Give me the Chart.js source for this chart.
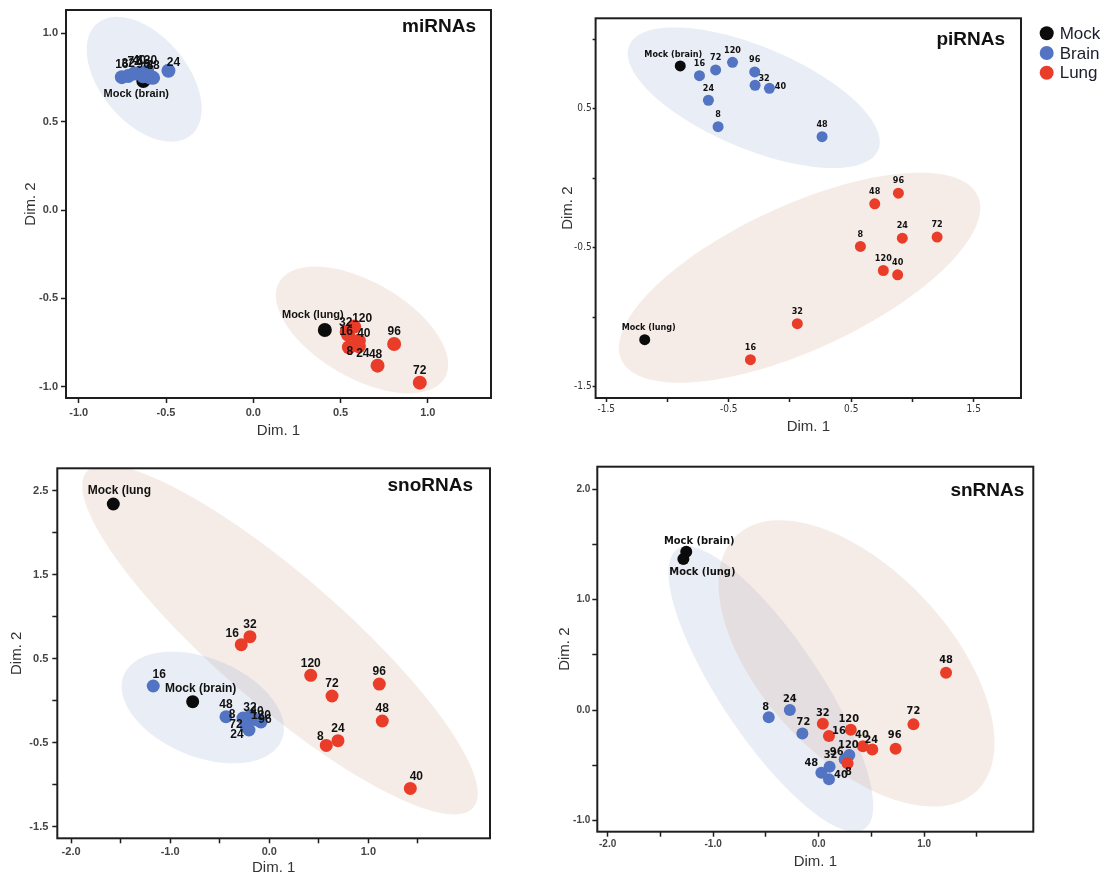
<!DOCTYPE html>
<html>
<head>
<meta charset="utf-8">
<script src="https://cdn.jsdelivr.net/npm/chart.js@4.4.1/dist/chart.umd.min.js"></script>
<style>
  html, body { margin: 0; padding: 0; background: #fff; }
  #wrap { position: relative; width: 1102px; height: 877px; }
  canvas { position: absolute; }
</style>
</head>
<body>
<div id="wrap">
  <canvas id="mi" width="540" height="440" style="left:0;top:0"></canvas>
  <canvas id="pi" width="562" height="440" style="left:540px;top:0"></canvas>
  <canvas id="sno" width="540" height="437" style="left:0;top:440px"></canvas>
  <canvas id="sn" width="562" height="437" style="left:540px;top:440px"></canvas>
</div>
<script>
// ── data ────────────────────────────────────────────────
const hours = ['8', '16', '24', '32', '40', '48', '72', '96', '120'];
const groups = ['Mock', 'Brain', 'Lung'];

// miRNAs
const miMockNames = ['Mock (brain)', 'Mock (lung)'];
const miMockX = [-0.630, 0.410];
const miMockY = [0.730, -0.679];
const miBrainX = [-0.591, -0.753, -0.486, -0.717, -0.654, -0.574, -0.683, -0.631, -0.608];
const miBrainY = [0.750, 0.752, 0.788, 0.758, 0.775, 0.748, 0.772, 0.757, 0.785];
const miLungX = [0.548, 0.544, 0.605, 0.535, 0.605, 0.712, 0.954, 0.807, 0.578];
const miLungY = [-0.777, -0.707, -0.772, -0.689, -0.740, -0.881, -0.977, -0.758, -0.660];
// ellipse: centre, first and second semi-axis vectors (data units)
const miBrainEllipse = [-0.625, 0.740, 0.269, -0.316, -0.190, -0.158];
const miLungEllipse = [0.623, -0.679, 0.474, -0.271, -0.137, -0.235];
const miXTicks = [-1, -0.5, 0, 0.5, 1];
const miXLabels = [-1, -0.5, 0, 0.5, 1];
const miYTicks = [-1, -0.5, 0, 0.5, 1];
const miYLabels = [-1, -0.5, 0, 0.5, 1];

// piRNAs
const piMockNames = ['Mock (brain)', 'Mock (lung)'];
const piMockX = [-0.896, -1.186];
const piMockY = [0.808, -1.163];
const piBrainX = [-0.587, -0.739, -0.666, -0.285, -0.168, 0.262, -0.607, -0.288, -0.469];
const piBrainY = [0.371, 0.738, 0.561, 0.669, 0.647, 0.299, 0.779, 0.765, 0.834];
const piLungX = [0.575, -0.323, 0.917, 0.060, 0.879, 0.692, 1.201, 0.885, 0.762];
const piLungY = [-0.492, -1.307, -0.432, -1.048, -0.696, -0.185, -0.424, -0.108, -0.665];
const piBrainEllipse = [-0.296, 0.579, 1.016, -0.377, -0.162, -0.338];
const piLungEllipse = [0.078, -0.717, 1.454, 0.591, 0.247, -0.472];
const piXTicks = [-1.5, -1, -0.5, 0, 0.5, 1, 1.5];
const piXLabels = [-1.5, -0.5, 0.5, 1.5];
const piYTicks = [-1.5, -1, -0.5, 0, 0.5, 1];
const piYLabels = [-1.5, -0.5, 0.5];

// snoRNAs
const snoMockNames = ['Mock (brain)', 'Mock (lung'];
const snoMockX = [-0.773, -1.574];
const snoMockY = [-0.014, 2.339];
const snoBrainX = [-0.265, -1.171, -0.205, -0.195, -0.154, -0.437, -0.235, -0.084, -0.124];
const snoBrainY = [-0.208, 0.173, -0.351, -0.185, -0.220, -0.193, -0.304, -0.256, -0.232];
const snoLungX = [0.575, -0.283, 0.693, -0.195, 1.423, 1.140, 0.633, 1.110, 0.418];
const snoLungY = [-0.534, 0.665, -0.478, 0.760, -1.046, -0.244, 0.054, 0.196, 0.300];
const snoBrainEllipse = [-0.671, -0.083, 0.797, -0.385, -0.188, -0.542];
const snoLungEllipse = [0.108, 0.724, 1.950, -1.999, -0.424, -0.575];
const snoXTicks = [-2, -1.5, -1, -0.5, 0, 0.5, 1, 1.5];
const snoXLabels = [-2, -1, 0, 1];
const snoYTicks = [-1.5, -1, -0.5, 0, 0.5, 1, 1.5, 2, 2.5];
const snoYLabels = [-1.5, -0.5, 0.5, 1.5, 2.5];

// snRNAs
const snMockNames = ['Mock (brain)', 'Mock (lung)'];
const snMockX = [-1.255, -1.282];
const snMockY = [1.435, 1.369];
const snBrainNames = ['8', '24', '32', '40', '48', '72', '96', '120'];
const snBrainX = [-0.473, -0.273, 0.104, 0.098, 0.026, -0.154, 0.247, 0.291];
const snBrainY = [-0.066, 0.000, -0.514, -0.628, -0.568, -0.212, -0.447, -0.408];
const snLungX = [0.274, 0.098, 0.509, 0.040, 0.420, 1.208, 0.899, 0.730, 0.305];
const snLungY = [-0.483, -0.236, -0.357, -0.124, -0.329, 0.338, -0.130, -0.351, -0.178];
const snBrainEllipse = [-0.453, 0.189, 0.887, -1.268, -0.394, -0.252];
const snLungEllipse = [0.359, 0.423, 1.136, -1.161, -0.648, -0.580];
const snXTicks = [-2, -1.5, -1, -0.5, 0, 0.5, 1, 1.5];
const snXLabels = [-2, -1, 0, 1];
const snYTicks = [-1, -0.5, 0, 0.5, 1, 1.5, 2];
const snYLabels = [-1, 0, 1, 2];

// ── styling ─────────────────────────────────────────────
const colors = { Mock: '#0b0b0b', Brain: '#5274c2', Lung: '#ea3d29' };
const ellipseFill = { Brain: 'rgba(165,178,212,0.24)', Lung: 'rgba(214,176,158,0.24)' };
const sans = "'Liberation Sans', Arial, Helvetica, sans-serif";
const narrow = "'Liberation Sans Narrow', 'DejaVu Sans Condensed', 'Liberation Sans', sans-serif";

const pts = (xs, ys) => xs.map((x, i) => ({ x, y: ys[i] }));

function panel(p) {
  const canvas = document.getElementById(p.id);
  const W = canvas.width, H = canvas.height;
  const a = p.area;

  const plugin = {
    id: 'panelDecor',
    beforeDatasetsDraw(chart) {
      const { ctx, chartArea: ca, scales: { x, y } } = chart;
      ctx.save();
      ctx.beginPath();
      ctx.rect(ca.left, ca.top, ca.right - ca.left, ca.bottom - ca.top);
      ctx.clip();
      p.ellipses.forEach(([grp, e]) => {
        ctx.beginPath();
        for (let i = 0; i <= 160; i++) {
          const t = i / 160 * Math.PI * 2;
          const dx = e[0] + e[2] * Math.cos(t) + e[4] * Math.sin(t);
          const dy = e[1] + e[3] * Math.cos(t) + e[5] * Math.sin(t);
          const px = x.getPixelForValue(dx), py = y.getPixelForValue(dy);
          if (i) ctx.lineTo(px, py); else ctx.moveTo(px, py);
        }
        ctx.closePath();
        ctx.fillStyle = ellipseFill[grp];
        ctx.fill();
      });
      ctx.restore();
    },
    afterDatasetsDraw(chart) {
      const { ctx, chartArea: ca } = chart;
      ctx.save();
      // point labels
      ctx.fillStyle = '#111';
      ctx.textAlign = 'center';
      ctx.textBaseline = 'middle';
      chart.data.datasets.forEach((ds, i) => {
        const meta = chart.getDatasetMeta(i);
        ctx.font = ds.label === 'Mock' ? p.mockFont : p.labelFont;
        meta.data.forEach((el, j) => {
          const name = ds.names[j];
          const n = p.nudge[ds.label + ':' + name] || p.defaultNudge;
          ctx.fillText(name, el.x + n[0], el.y + n[1]);
        });
      });
      // frame
      ctx.strokeStyle = '#1e1e1e';
      ctx.lineWidth = 2;
      ctx.strokeRect(ca.left, ca.top, ca.right - ca.left, ca.bottom - ca.top);
      // panel title
      ctx.font = 'bold 19px ' + sans;
      ctx.fillStyle = '#111';
      ctx.textAlign = 'right';
      ctx.fillText(p.title, ca.right - p.titleInset[0], ca.top + p.titleInset[1]);
      // legend
      if (p.legend) {
        ctx.textAlign = 'left';
        ctx.font = '17px ' + sans;
        groups.forEach((g, k) => {
          const cy = p.legend.y + k * p.legend.gap;
          ctx.beginPath();
          ctx.arc(p.legend.x, cy, 7, 0, Math.PI * 2);
          ctx.fillStyle = colors[g];
          ctx.fill();
          ctx.fillStyle = '#1a1d2b';
          ctx.fillText(g, p.legend.x + 13, cy + 1);
        });
      }
      ctx.restore();
    },
  };

  const axis = (ticksArr, labelled, fit, tickOpt, title) => ({
    type: 'linear',
    afterBuildTicks: s => { s.ticks = ticksArr.map(v => ({ value: v })); },
    afterFit: fit,
    ticks: {
      autoSkip: false, maxRotation: 0,
      padding: tickOpt.padding,
      color: p.tickColor,
      font: p.tickFont,
      callback: v => labelled.includes(v) ? v.toFixed(1) : '',
    },
    grid: { display: true, drawOnChartArea: false, drawTicks: true, tickLength: tickOpt.len, tickColor: '#1e1e1e', tickWidth: 1.5 },
    border: { display: false },
    title: { display: true, text: title.text, color: '#333', font: { family: sans, size: 15 }, padding: title.padding },
  });

  const mk = (g, xs, ys, names, order) => ({
    label: g, data: pts(xs, ys), names, order,
    backgroundColor: colors[g], borderWidth: 0,
    pointRadius: p.r, pointHoverRadius: p.r,
  });

  new Chart(canvas, {
    type: 'scatter',
    data: {
      datasets: [
        mk('Mock', p.mockX, p.mockY, p.mockNames, 3),
        mk('Brain', p.brainX, p.brainY, p.brainNames, 2),
        mk('Lung', p.lungX, p.lungY, hours, 1),
      ],
    },
    options: {
      responsive: false,
      animation: false,
      devicePixelRatio: 1,
      layout: { padding: { left: 0, top: a.top, right: W - a.right, bottom: 0 } },
      scales: {
        x: Object.assign(axis(p.xTicks, p.xLabels, s => { s.height = H - a.bottom; }, p.xTickOpt,
          { text: 'Dim. 1', padding: { top: 0, bottom: p.xTitlePad } }), { min: p.xRange[0], max: p.xRange[1] }),
        y: Object.assign(axis(p.yTicks, p.yLabels, s => { s.width = a.left; }, p.yTickOpt,
          { text: 'Dim. 2', padding: { top: p.yTitlePad, bottom: 0 } }), { min: p.yRange[0], max: p.yRange[1] }),
      },
      plugins: { legend: { display: false }, tooltip: { enabled: false } },
    },
    plugins: [plugin],
  });
}

panel({
  id: 'mi', title: 'miRNAs', titleInset: [15, 17],
  area: { left: 66, top: 10, right: 491, bottom: 398 },
  xRange: [-1.073, 1.362], yRange: [-1.064, 1.132],
  xTicks: miXTicks, xLabels: miXLabels, yTicks: miYTicks, yLabels: miYLabels,
  xTickOpt: { len: 5, padding: 3 }, yTickOpt: { len: 5, padding: 3 },
  xTitlePad: 0, yTitlePad: 22,
  tickFont: { family: sans, size: 11, weight: 'bold' }, tickColor: '#444',
  r: 7,
  labelFont: 'bold 12px ' + sans, mockFont: 'bold 11px ' + sans,
  mockNames: miMockNames, mockX: miMockX, mockY: miMockY,
  brainNames: hours, brainX: miBrainX, brainY: miBrainY,
  lungX: miLungX, lungY: miLungY,
  ellipses: [['Brain', miBrainEllipse], ['Lung', miLungEllipse]],
  defaultNudge: [0, -12],
  nudge: {
    'Mock:Mock (brain)': [-7, 13], 'Mock:Mock (lung)': [-12, -15],
    'Lung:16': [-2, -3], 'Lung:8': [1, 4], 'Lung:24': [4, 7], 'Lung:40': [5, -7],
    'Lung:120': [8, -8], 'Lung:32': [-1, -9], 'Lung:48': [-2, -11],
    'Brain:24': [5, -8], 'Brain:120': [0, -11],
  },
});

panel({
  id: 'pi', title: 'piRNAs', titleInset: [16, 21],
  area: { left: 55.6, top: 18.3, right: 481, bottom: 398 },
  xRange: [-1.587, 1.886], yRange: [-1.583, 1.151],
  xTicks: piXTicks, xLabels: piXLabels, yTicks: piYTicks, yLabels: piYLabels,
  xTickOpt: { len: 4, padding: 1 }, yTickOpt: { len: 3, padding: 1 },
  xTitlePad: 4, yTitlePad: 19,
  tickFont: { family: narrow, size: 10 }, tickColor: '#333',
  r: 5.5,
  labelFont: 'bold 9px ' + narrow, mockFont: 'bold 9px ' + narrow,
  mockNames: piMockNames, mockX: piMockX, mockY: piMockY,
  brainNames: hours, brainX: piBrainX, brainY: piBrainY,
  lungX: piLungX, lungY: piLungY,
  ellipses: [['Brain', piBrainEllipse], ['Lung', piLungEllipse]],
  defaultNudge: [0, -12],
  nudge: {
    'Mock:Mock (brain)': [-7, -11], 'Mock:Mock (lung)': [4, -12],
    'Brain:40': [11, -2], 'Brain:32': [9, -7],
  },
  legend: { x: 506.7, y: 33.3, gap: 19.7 },
});

panel({
  id: 'sno', title: 'snoRNAs', titleInset: [17, 17],
  area: { left: 57.3, top: 28.3, right: 490, bottom: 398.3 },
  xRange: [-2.139, 2.227], yRange: [-1.640, 2.764],
  xTicks: snoXTicks, xLabels: snoXLabels, yTicks: snoYTicks, yLabels: snoYLabels,
  xTickOpt: { len: 5, padding: 2 }, yTickOpt: { len: 5, padding: 4 },
  xTitlePad: 0, yTitlePad: 8,
  tickFont: { family: sans, size: 11, weight: 'bold' }, tickColor: '#444',
  r: 6.5,
  labelFont: 'bold 12px ' + sans, mockFont: 'bold 12px ' + sans,
  mockNames: snoMockNames, mockX: snoMockX, mockY: snoMockY,
  brainNames: hours, brainX: snoBrainX, brainY: snoBrainY,
  lungX: snoLungX, lungY: snoLungY,
  ellipses: [['Lung', snoLungEllipse], ['Brain', snoBrainEllipse]],
  defaultNudge: [0, -12],
  nudge: {
    'Mock:Mock (brain)': [8, -13], 'Mock:Mock (lung': [6, -13],
    'Brain:16': [6, -11], 'Brain:8': [-11, -3], 'Brain:72': [-10, -1], 'Brain:24': [-12, 5],
    'Brain:32': [0, -8], 'Brain:40': [3, -7], 'Brain:120': [4, -4], 'Brain:96': [4, -2],
    'Lung:16': [-9, -11], 'Lung:8': [-6, -9], 'Lung:40': [6, -12],
  },
});

panel({
  id: 'sn', title: 'snRNAs', titleInset: [9, 24],
  area: { left: 57.3, top: 26.7, right: 493.3, bottom: 391.7 },
  xRange: [-2.098, 2.035], yRange: [-1.103, 2.206],
  xTicks: snXTicks, xLabels: snXLabels, yTicks: snYTicks, yLabels: snYLabels,
  xTickOpt: { len: 5, padding: 2 }, yTickOpt: { len: 5, padding: 2 },
  xTitlePad: 6, yTitlePad: 16,
  tickFont: { family: sans, size: 10, weight: 'bold' }, tickColor: '#444',
  r: 6,
  labelFont: 'bold 11px ' + narrow, mockFont: 'bold 11px ' + narrow,
  mockNames: snMockNames, mockX: snMockX, mockY: snMockY,
  brainNames: snBrainNames, brainX: snBrainX, brainY: snBrainY,
  lungX: snLungX, lungY: snLungY,
  ellipses: [['Brain', snBrainEllipse], ['Lung', snLungEllipse]],
  defaultNudge: [0, -13],
  nudge: {
    'Mock:Mock (brain)': [13, -11], 'Mock:Mock (lung)': [19, 13],
    'Brain:8': [-3, -10], 'Brain:24': [0, -11], 'Brain:72': [1, -11], 'Brain:48': [-10, -10],
    'Brain:32': [1, -12], 'Brain:40': [12, -4], 'Brain:96': [-8, -7], 'Brain:120': [-1, -10],
    'Lung:32': [0, -11], 'Lung:16': [10, -5], 'Lung:120': [-2, -11], 'Lung:40': [-1, -11],
    'Lung:24': [-1, -9], 'Lung:96': [-1, -14], 'Lung:8': [1, 9],
  },
});
</script>
</body>
</html>
